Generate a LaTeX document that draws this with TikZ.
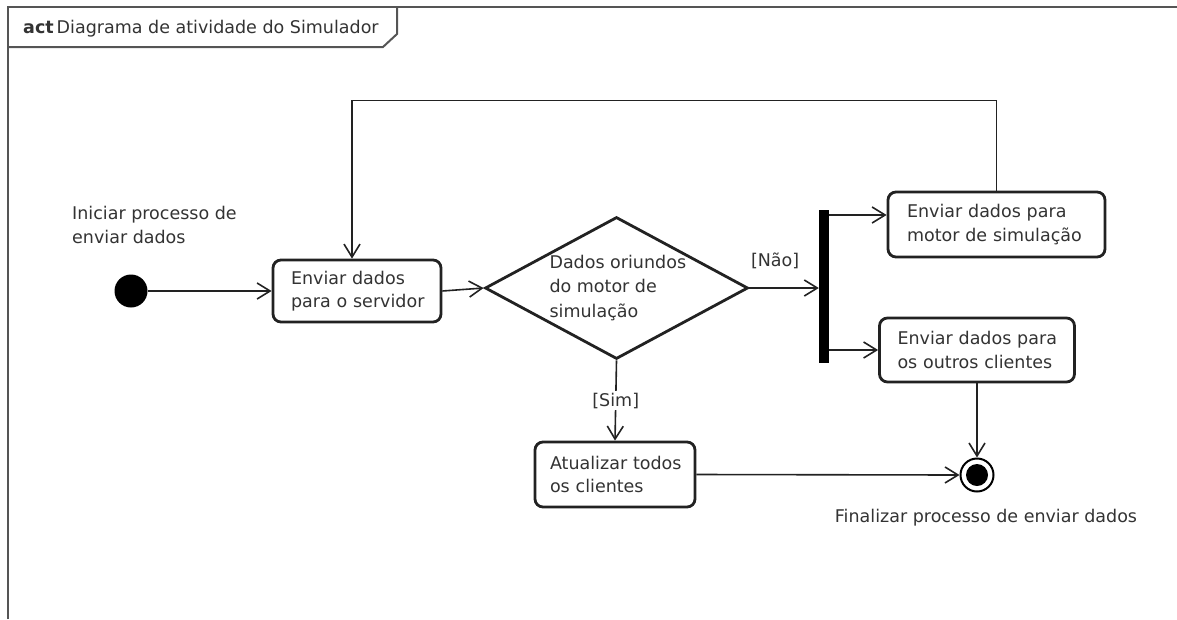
\documentclass[tikz,border=0pt]{standalone}
\usepackage{fontspec}
\setmainfont{DejaVu Sans}
\usetikzlibrary{arrows.meta,shapes.geometric,calc}
\definecolor{edge}{HTML}{222222}
\definecolor{txt}{HTML}{333333}
\definecolor{framec}{HTML}{555555}
\begin{document}
\begin{tikzpicture}[x=1pt,y=-1pt,
  every node/.style={font=\fontsize{17.5}{23.5}\selectfont, text=txt},
  action/.style={draw=edge, line width=2.8pt, rounded corners=8pt, fill=white,
    align=left, inner ysep=0pt},
  flow/.style={draw=edge, line width=1.6pt,
    -{Straight Barb[length=13pt,width=16pt,line width=1.6pt]}},
  framec/.style={draw=framec, line width=2pt},
]
\useasboundingbox (0,0) rectangle (1177,619);

% activity frame with its name tab
\draw[framec] (8,619) -- (8,7) -- (1177,7);
\draw[framec] (8,47) -- (383,47) -- (397,34) -- (397,7);
\node[anchor=west, inner sep=0pt] (title) at (23,29)
  {\textbf{act}\hspace{3pt}Diagrama de atividade do Simulador};

% start and end
\node[circle, fill=black, minimum size=33pt, inner sep=0pt] (ini) at (131,291) {};
\node[anchor=west, align=left, inner sep=0pt] (iniLbl) at (72,225)
  {Iniciar processo de\\enviar dados};

\node[circle, draw=black, line width=2pt, fill=white, minimum size=33pt,
  inner sep=0pt] (fin) at (977,475) {};
\node[circle, fill=black, minimum size=22pt, inner sep=0pt] (finDot) at (fin) {};
\node[inner sep=0pt] (finLbl) at (986,518) {Finalizar processo de enviar dados};

% actions (each line kept whole)
\node[action, text width=132pt, inner xsep=18pt, minimum height=62pt]
  (serv) at (357,291) {\mbox{Enviar dados}\\\mbox{para o servidor}};
\node[action, text width=179pt, inner xsep=19pt, minimum height=65pt]
  (motor) at (996.5,224.5) {\mbox{Enviar dados para}\\\mbox{motor de simulação}};
\node[action, text width=159pt, inner xsep=18pt, minimum height=64pt]
  (cli) at (977,350) {\mbox{Enviar dados para}\\\mbox{os outros clientes}};
\node[action, text width=130pt, inner xsep=15pt, minimum height=65pt]
  (atual) at (615,474.5) {\mbox{Atualizar todos}\\\mbox{os clientes}};

% decision
\node[diamond, draw=edge, line width=2.8pt, fill=white, minimum width=263pt,
  minimum height=142pt, inner sep=0pt] (dia) at (616.5,288) {};
\node[anchor=west, align=left, font=\fontsize{17.5}{24.5}\selectfont]
  (diaTxt) at (546,288) {Dados oriundos\\do motor de\\simulação};

% fork bar
\node[fill=black, minimum width=10pt, minimum height=153pt, inner sep=0pt]
  (bar) at (824,286.5) {};

% flows
\draw[flow] (ini) -- (serv.west);
\draw[flow] (serv.east) -- (dia.west);
\draw[flow] (dia.east) -- (dia.east -| bar.west)
  node[pos=0.37, yshift=27pt, inner sep=0pt] {[Não]};
\coordinate (mIn) at ([yshift=9.5pt]motor.west);
\draw[flow] (bar.east |- mIn) -- (mIn);
\draw[flow] (bar.east |- cli.west) -- (cli.west);
\coordinate (sIn) at ([xshift=-5pt]serv.north);
\draw[flow] (motor.north) -- ++(0,-90) -| (sIn);
\draw[flow] (dia.south) -- (atual.north)
  node[midway, fill=white, inner sep=2pt] {[Sim]};
\draw[flow] (atual.east) -- (fin.west);
\draw[flow] (cli.south) -- (fin.north);
\end{tikzpicture}
\end{document}
